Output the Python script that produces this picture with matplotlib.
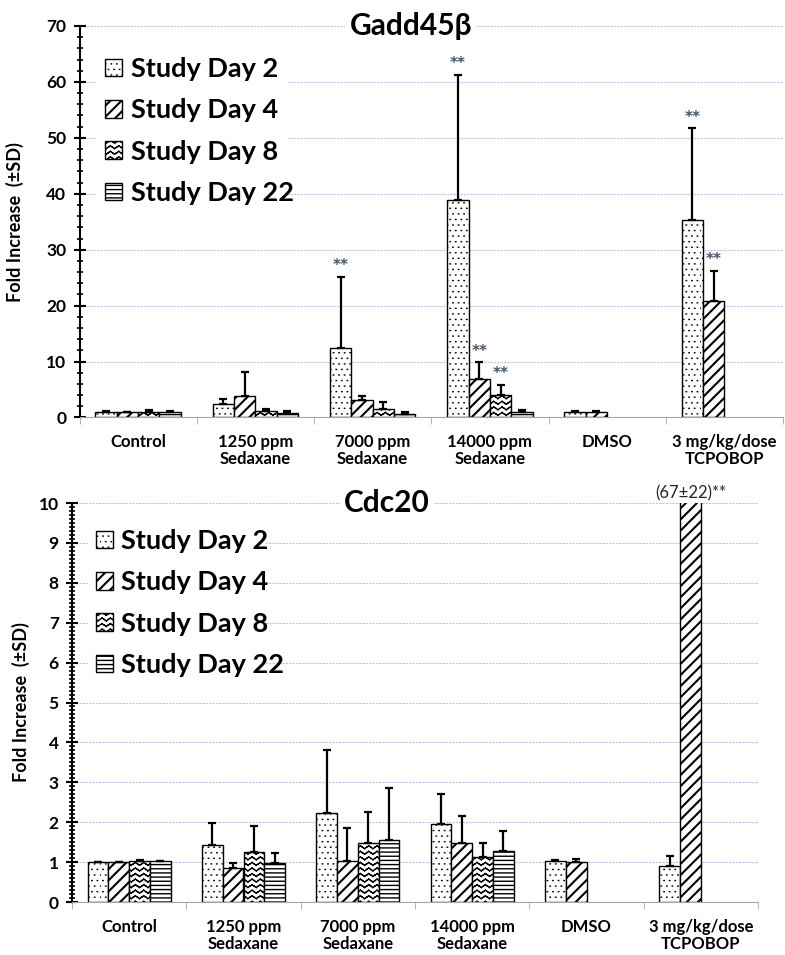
import numpy as np
import matplotlib
matplotlib.use('Agg')
import matplotlib.pyplot as plt
import matplotlib.hatch as mhatch
from matplotlib.path import Path
from matplotlib.ticker import MultipleLocator

plt.rcParams['font.family'] = ['Lato', 'DejaVu Sans']
plt.rcParams['hatch.linewidth'] = 1.0

groups = ['Control', '1250 ppm\nSedaxane', '7000 ppm\nSedaxane',
          '14000 ppm\nSedaxane', 'DMSO', '3 mg/kg/dose\nTCPOBOP']
days = ['Study Day 2', 'Study Day 4', 'Study Day 8', 'Study Day 22']
nan = np.nan

# Gadd45b fold increase, one row per study day (groups in order above)
gadd_mean = [[1.0, 2.4, 12.4, 38.9, 0.9, 35.4],
             [0.95, 3.9, 3.1, 6.8, 0.9, 20.9],
             [1.05, 1.2, 1.6, 4.0, nan, nan],
             [0.95, 0.8, 0.6, 0.9, nan, nan]]
gadd_sd = [[0.15, 0.85, 12.8, 22.4, 0.2, 16.3],
           [0.1, 4.2, 0.7, 3.1, 0.2, 5.3],
           [0.25, 0.3, 1.2, 1.9, nan, nan],
           [0.15, 0.35, 0.3, 0.45, nan, nan]]
# (day index, group index) of bars marked **
gadd_stars = [(0, 2), (0, 3), (1, 3), (2, 3), (0, 5), (1, 5)]

# Cdc20 fold increase
cdc_mean = [[1.0, 1.44, 2.24, 1.95, 1.02, 0.9],
            [0.99, 0.84, 1.04, 1.49, 0.99, 67.0],
            [1.02, 1.26, 1.47, 1.13, nan, nan],
            [1.02, 0.97, 1.55, 1.28, nan, nan]]
cdc_sd = [[0.01, 0.55, 1.58, 0.75, 0.03, 0.26],
          [0.01, 0.13, 0.82, 0.66, 0.09, nan],
          [0.04, 0.64, 0.78, 0.36, nan, nan],
          [0.02, 0.26, 1.31, 0.51, nan, nan]]
cdc_note = '(67±22)**'


class WaveHatch(mhatch.HatchPatternBase):
    # 'O' is reused as the wavy fill of Study Day 8 (drawn as separate segments, so nothing gets filled)
    def __init__(self, hatch, density):
        self.num_lines = int(hatch.count('O') * density)
        self.num_seg = 48
        self.num_vertices = self.num_lines * self.num_seg * 2

    def set_vertices_and_codes(self, vertices, codes):
        t = np.linspace(0.0, 1.0, self.num_seg + 1)
        step = 1.0 / self.num_lines
        for i in range(self.num_lines):
            y = (i + 0.5) * step + 0.25 * step * np.sin(2 * np.pi * 12 * t)
            a = i * self.num_seg * 2
            vertices[a:a + self.num_seg * 2:2, 0] = t[:-1]
            vertices[a:a + self.num_seg * 2:2, 1] = y[:-1]
            vertices[a + 1:a + self.num_seg * 2:2, 0] = t[1:]
            vertices[a + 1:a + self.num_seg * 2:2, 1] = y[1:]
            codes[a:a + self.num_seg * 2:2] = Path.MOVETO
            codes[a + 1:a + self.num_seg * 2:2] = Path.LINETO


class DotHatch(mhatch.HatchPatternBase):
    # '.' drawn as tiny staggered specks instead of filled circles
    def __init__(self, hatch, density):
        self.num_rows = int(hatch.count('.') * density)
        self.num_vertices = self.num_rows * self.num_rows * 2

    def set_vertices_and_codes(self, vertices, codes):
        step = 1.0 / self.num_rows
        k = 0
        for r in range(self.num_rows):
            shift = 0.5 * step if r % 2 else 0.0
            for c in range(self.num_rows):
                x0 = (c * step + shift) % 1.0
                y0 = (r + 0.5) * step
                vertices[k] = (x0, y0)
                vertices[k + 1] = (x0 + 0.004, y0)
                codes[k] = Path.MOVETO
                codes[k + 1] = Path.LINETO
                k += 2


mhatch._hatch_types[mhatch._hatch_types.index(mhatch.LargeCircles)] = WaveHatch
mhatch._hatch_types[mhatch._hatch_types.index(mhatch.SmallFilledCircles)] = DotHatch

hatches = ['...', '///', 'OOO', '----']
hatch_lw = [1.0, 1.5, 1.0, 1.0]
w = 0.182


def draw_panel(ax, means, sds, ymax, major, minor):
    x = np.arange(len(groups))
    for i, day in enumerate(days):
        pos = x + (i - 1.5) * w
        m = np.array(means[i], dtype=float)
        e = np.array(sds[i], dtype=float)
        bars = ax.bar(pos, m, w, color='white', edgecolor='black', linewidth=1.0,
                      hatch=hatches[i], label=day, zorder=2)
        for b in bars:
            if hasattr(b, 'set_hatch_linewidth'):
                b.set_hatch_linewidth(hatch_lw[i])
        ax.errorbar(pos, m, yerr=[np.zeros_like(e), e], fmt='none', ecolor='black',
                    elinewidth=1.6, capsize=3, capthick=1.6, zorder=3)

    ax.set_xlim(-0.5, len(groups) - 0.5)
    ax.set_ylim(0, ymax)
    ax.spines['top'].set_visible(False)
    ax.spines['right'].set_visible(False)
    ax.spines['left'].set_linewidth(1.5)
    ax.spines['bottom'].set_color('#a6a6a6')

    ax.set_xticks(x)
    ax.set_xticklabels(groups, fontsize=12, fontweight='bold', linespacing=1.1)
    ax.set_xticks(np.arange(-0.5, len(groups), 1), minor=True)
    ax.tick_params(axis='x', which='major', length=0, pad=12)
    ax.tick_params(axis='x', which='minor', length=5, color='#a6a6a6', direction='out')

    ax.yaxis.set_major_locator(MultipleLocator(major))
    ax.yaxis.set_minor_locator(MultipleLocator(minor))
    ax.tick_params(axis='y', which='major', direction='inout', length=9, width=1.5,
                   labelsize=12.5, pad=5)
    ax.tick_params(axis='y', which='minor', direction='inout', length=4, width=1.2)
    plt.setp(ax.get_yticklabels(), fontweight='bold')

    ax.yaxis.grid(True, color='#b4c7e7', linestyle=(0, (2, 1)), linewidth=0.8)
    ax.set_axisbelow(True)
    ax.set_ylabel('Fold Increase  (±SD)', fontsize=13, fontweight='bold')


def add_legend(ax, x0, y0, width):
    leg = ax.legend(loc='upper left', bbox_to_anchor=(x0, y0, width, 0), mode='expand',
                    prop={'size': 19.5, 'weight': 'bold'}, frameon=True, facecolor='white',
                    edgecolor='none', framealpha=1, fancybox=False, borderpad=0.3,
                    handlelength=0.63, handleheight=0.63, handletextpad=0.3, labelspacing=0.64)
    for h, lw in zip(leg.legend_handles, hatch_lw):
        if hasattr(h, 'set_hatch_linewidth'):
            h.set_hatch_linewidth(lw)


fig = plt.figure(figsize=(7.85, 9.55), dpi=100)

# Gadd45b
ax1 = fig.add_axes([79.5 / 785, 1 - 417.5 / 955, 703.5 / 785, 391.5 / 955])
draw_panel(ax1, gadd_mean, gadd_sd, 70, 10, 2)
ax1.yaxis.set_label_coords(-0.079, 0.5)
for d, g in gadd_stars:
    ax1.annotate('**', (g + (d - 1.5) * w, gadd_mean[d][g] + gadd_sd[d][g]),
                 xytext=(0, 8), textcoords='offset points', ha='center', va='center',
                 fontsize=11, fontweight='bold', family='DejaVu Sans', color='#44546a')
ax1.text(0.471, 1.0, 'Gadd45β', transform=ax1.transAxes, ha='center', va='center',
         fontsize=21.5, fontweight='bold', zorder=6,
         bbox=dict(facecolor='white', edgecolor='none', pad=3))
add_legend(ax1, 0.006, 0.976, 0.31)

# Cdc20
ax2 = fig.add_axes([72 / 785, 1 - 902 / 955, 686 / 785, 399 / 955])
draw_panel(ax2, cdc_mean, cdc_sd, 10, 1, 0.1)
ax2.yaxis.set_label_coords(-0.061, 0.5)
ax2.annotate(cdc_note, (5 - 0.5 * w, 10), xytext=(0, 1), textcoords='offset points',
             ha='center', va='bottom', fontsize=12, color='#262626', annotation_clip=False)
ax2.text(0.459, 1.0, 'Cdc20', transform=ax2.transAxes, ha='center', va='center',
         fontsize=21.5, fontweight='bold', zorder=6,
         bbox=dict(facecolor='white', edgecolor='none', pad=3))
add_legend(ax2, 0.003, 0.989, 0.3)

fig.savefig('out.png', dpi=100)
